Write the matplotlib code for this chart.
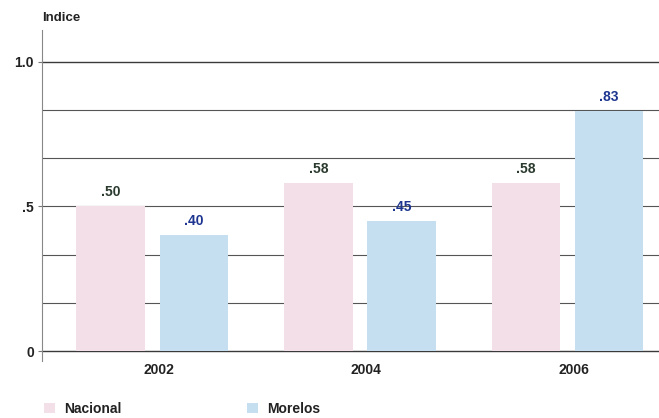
import matplotlib.pyplot as plt
import numpy as np

plt.rcParams['font.family'] = ['Liberation Sans', 'DejaVu Sans']

years = ['2002', '2004', '2006']
nacional = [0.50, 0.58, 0.58]
morelos = [0.40, 0.45, 0.83]
nacional_labels = ['.50', '.58', '.58']
morelos_labels = ['.40', '.45', '.83']
ytick_vals = [0, 0.5, 1.0]
ytick_labels = ['0', '.5', '1.0']

color_nac = '#f3dfe7'
color_mor = '#c6dff0'
text_nac = '#2b3a2e'
text_mor = '#1d3590'

fig = plt.figure(figsize=(6.59, 4.18), dpi=100)
ax = fig.add_axes([0.064, 0.136, 0.936, 0.792])

x = np.arange(len(years))
w = 0.33
off = 0.2

# Líneas de referencia
for g in np.arange(0, 7) / 6:
    ax.axhline(g, color='#3a3a3a' if g in (0, 1) else '#555555',
               linewidth=1.0 if g in (0, 1) else 0.8, zorder=0)

ax.bar(x - off, nacional, width=w, color=color_nac, zorder=2, label='Nacional')
ax.bar(x + off, morelos, width=w, color=color_mor, zorder=2, label='Morelos')

for xi, v, lbl in zip(x, nacional, nacional_labels):
    ax.text(xi - off, v + 0.025, lbl, ha='center', va='bottom',
            fontsize=10, fontweight='bold', color=text_nac)
for xi, v, lbl in zip(x, morelos, morelos_labels):
    ax.text(xi + off, v + 0.025, lbl, ha='center', va='bottom',
            fontsize=10, fontweight='bold', color=text_mor)

ax.set_xlim(-0.53, 2.44)
ax.set_ylim(-0.035, 1.11)
ax.set_xticks(x + 0.03)
ax.set_xticklabels(years, fontsize=10, fontweight='bold', color='#222222')
ax.tick_params(axis='x', length=0, pad=1)
ax.set_yticks(ytick_vals)
ax.set_yticklabels(ytick_labels, fontsize=10, fontweight='bold', color='#222222')
ax.tick_params(axis='y', length=3, color='#777777', pad=3)

for s in ['top', 'right', 'bottom']:
    ax.spines[s].set_visible(False)
ax.spines['left'].set_color('#888888')
ax.spines['left'].set_linewidth(0.8)

fig.text(0.064, 0.958, 'Indice', fontsize=9.5, fontweight='bold', color='#222222',
         ha='left', va='center')

# Leyenda
leg = ax.legend(loc='upper left', bbox_to_anchor=(-0.018, -0.085), ncol=2,
                frameon=False, fontsize=10, handlelength=0.8, handleheight=0.8,
                columnspacing=9.0, handletextpad=0.7)
for t in leg.get_texts():
    t.set_fontweight('bold')
    t.set_color('#222222')

fig.savefig('out.png', dpi=100)
